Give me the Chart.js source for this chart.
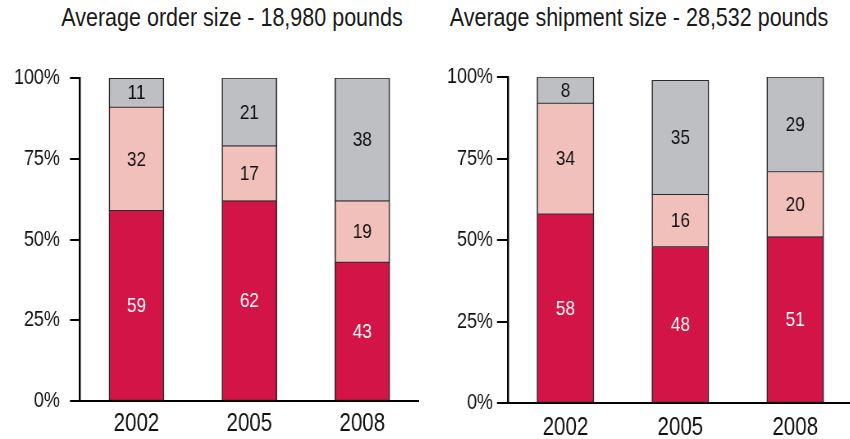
<!DOCTYPE html>
<html>
<head>
<meta charset="utf-8">
<script src="https://cdn.jsdelivr.net/npm/chart.js@4/dist/chart.umd.min.js"></script>
<style>
	html, body { margin: 0; padding: 0; background: #fff; overflow: hidden; }
	body { position: relative; width: 850px; height: 439px; }
	canvas { position: absolute; top: 0; transform-origin: 0 0; }
	.ttl {
		position: absolute; top: 3px; white-space: nowrap;
		font-family: 'Liberation Sans', Arial, sans-serif;
		font-size: 25px; color: #1a1a1a;
		transform: translateX(-50%) scaleX(0.86);
	}
</style>
</head>
<body>
<div class="ttl" id="t1" style="left:232px"></div>
<div class="ttl" id="t2" style="left:639px"></div>
<canvas id="c1"></canvas>
<canvas id="c2"></canvas>
<script>
	/* data */
	var years = ['2002', '2005', '2008'];
	var orderTitle = 'Average order size - 18,980 pounds';
	var shipTitle = 'Average shipment size - 28,532 pounds';
	var orderRed = [59, 62, 43];
	var orderPink = [32, 17, 19];
	var orderGray = [11, 21, 38];
	var shipRed = [58, 48, 51];
	var shipPink = [34, 16, 20];
	var shipGray = [8, 35, 29];
	var yTicks = [0, 25, 50, 75, 100];

	// the type in the original is a condensed grotesque: draw wide, squeeze the canvas
	var SX = 0.82;
	var FONT = "'Liberation Sans', Arial, sans-serif";
	var colors = ['#d31446', '#f2c0bb', '#bebfc3'];
	var labelColors = ['#ffffff', '#111111', '#111111'];

	document.getElementById('t1').textContent = orderTitle;
	document.getElementById('t2').textContent = shipTitle;

	function px(v) { return v / SX; }

	/* value labels in the middle of each segment */
	var segLabels = {
		id: 'segLabels',
		afterDatasetsDraw: function(chart) {
			var ctx = chart.ctx, area = chart.chartArea;
			ctx.save();
			ctx.font = '21px ' + FONT;
			ctx.textAlign = 'center';
			ctx.textBaseline = 'middle';
			chart.data.datasets.forEach(function(ds, i) {
				chart.getDatasetMeta(i).data.forEach(function(bar, j) {
					var p = bar.getProps(['x', 'y', 'base', 'width'], true);
					var top = Math.max(p.y, area.top);
					ctx.fillStyle = labelColors[i];
					ctx.fillText(ds.data[j], p.x, (top + p.base) / 2 + 1);
					// stack clipped at 100%: put back the top edge
					if (p.y < area.top) {
						ctx.strokeStyle = '#2a2a2a';
						ctx.lineWidth = 1;
						ctx.beginPath();
						ctx.moveTo(p.x - p.width / 2, area.top + 0.5);
						ctx.lineTo(p.x + p.width / 2, area.top + 0.5);
						ctx.stroke();
					}
				});
			});
			ctx.restore();
		}
	};

	function makeChart(id, series, cfg) {
		var cv = document.getElementById(id);
		cv.width = Math.round(px(cfg.w));
		cv.height = 439;
		cv.style.left = cfg.left + 'px';
		cv.style.width = cv.width + 'px';
		cv.style.height = '439px';
		cv.style.transform = 'scaleX(' + SX + ')';

		return new Chart(cv, {
			type: 'bar',
			data: {
				labels: years,
				datasets: series.map(function(s, i) {
					return {
						data: s,
						backgroundColor: colors[i],
						borderColor: '#2a2a2a',
						borderWidth: { top: 1, bottom: 0.6, left: px(1.3), right: px(1.3) },
						borderSkipped: false,
						barThickness: px(cfg.barW)
					};
				})
			},
			options: {
				responsive: false,
				animation: false,
				layout: { padding: { top: cfg.top, right: px(cfg.right), left: 0, bottom: 0 } },
				plugins: { legend: { display: false }, tooltip: { enabled: false } },
				scales: {
					x: {
						stacked: true,
						grid: { display: false, drawTicks: false },
						border: { display: true, color: '#000', width: 2 },
						ticks: { color: '#111', padding: cfg.xPad, font: { family: FONT, size: 25 } },
						afterFit: function(s) { s.height = cfg.xH; }
					},
					y: {
						stacked: true,
						min: 0,
						max: 100,
						afterBuildTicks: function(s) { s.ticks = yTicks.map(function(v) { return { value: v }; }); },
						grid: { drawOnChartArea: false, color: '#000', lineWidth: 2, tickLength: px(cfg.tick) },
						border: { color: '#000', width: px(2) },
						ticks: {
							color: '#111', padding: px(cfg.yPad),
							font: { family: FONT, size: 22 },
							callback: function(v) { return v + '%'; }
						},
						afterFit: function(s) { s.width = px(cfg.yW); }
					}
				}
			},
			plugins: [segLabels]
		});
	}

	makeChart('c1', [orderRed, orderPink, orderGray],
		{ left: 0, w: 425, barW: 55, top: 78, right: 6, xH: 38, xPad: 8, yW: 80, tick: 10, yPad: 10 });
	makeChart('c2', [shipRed, shipPink, shipGray],
		{ left: 425, w: 430, barW: 57, top: 77, right: 2, xH: 36, xPad: 10, yW: 83, tick: 11, yPad: 4 });
</script>
</body>
</html>
